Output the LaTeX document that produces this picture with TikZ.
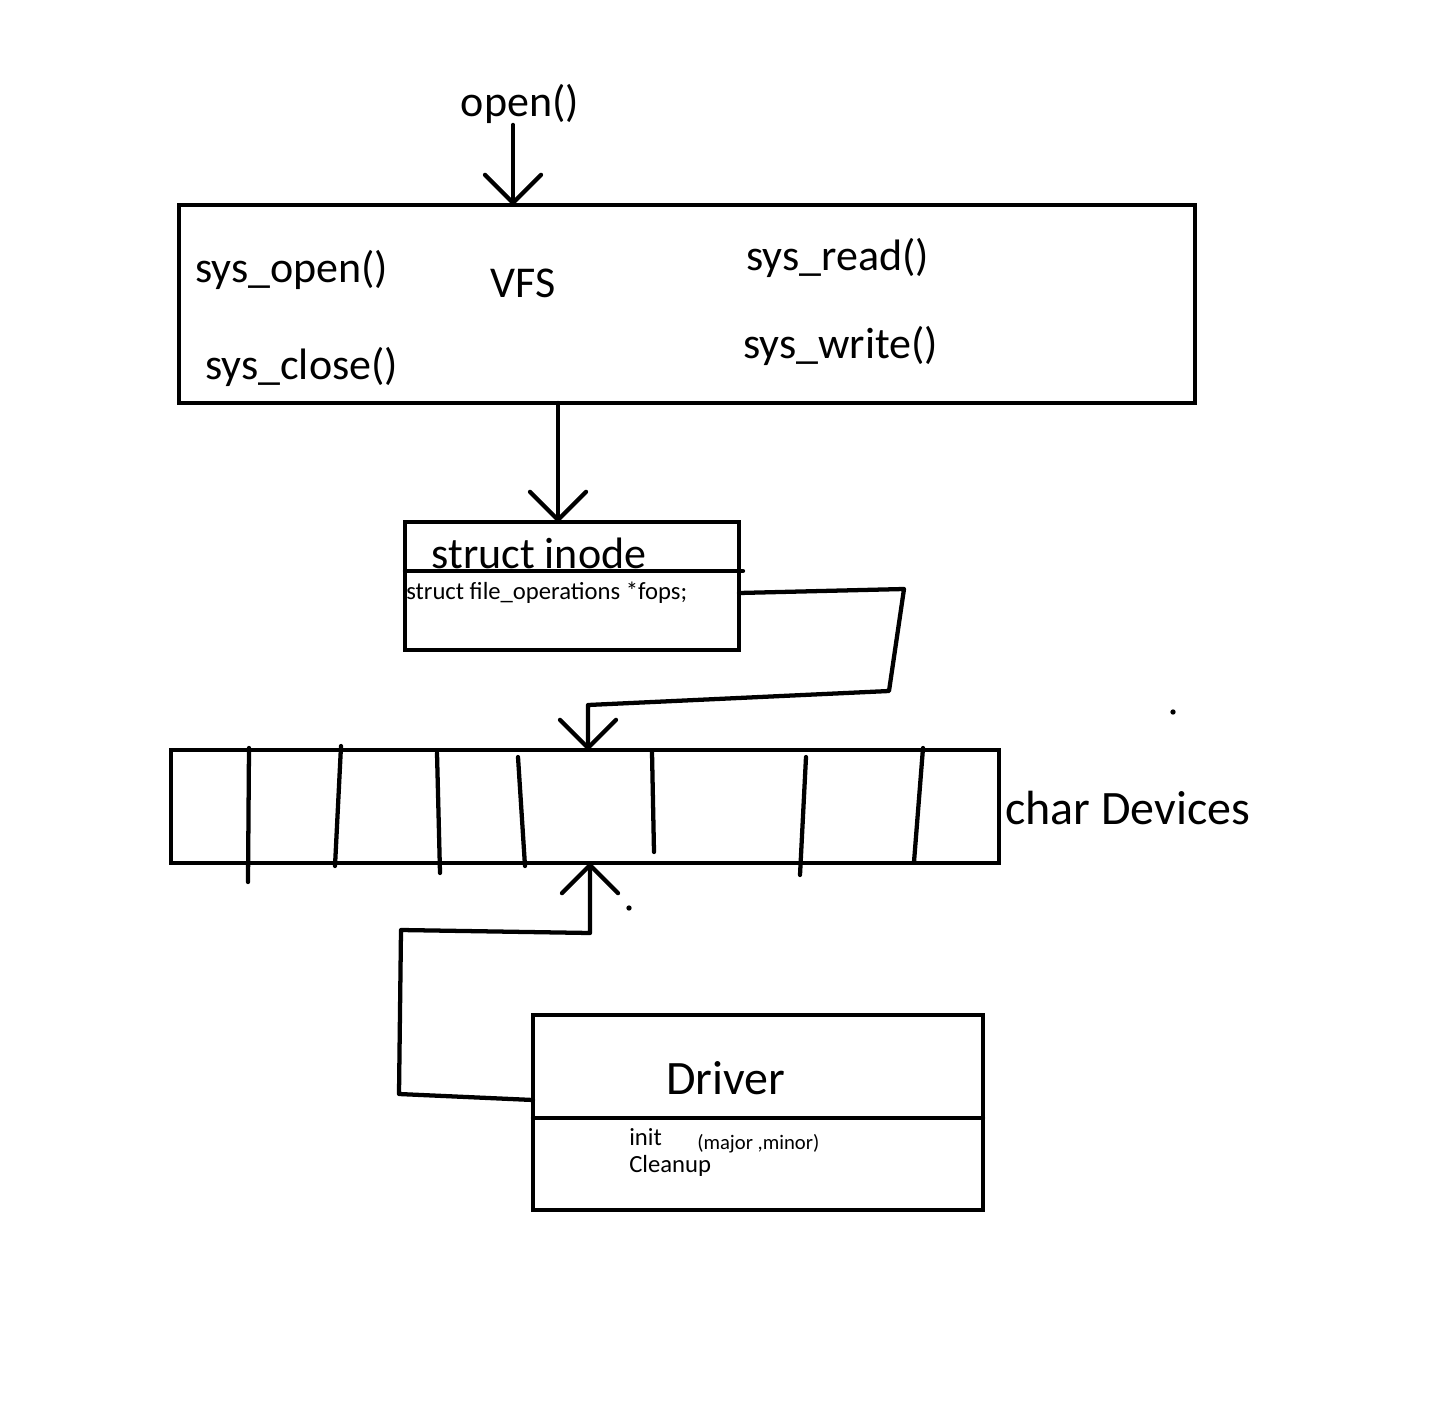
\documentclass[tikz,border=0pt]{standalone}
\usepackage{fontspec}
\setmainfont{Carlito}
\usetikzlibrary{arrows.meta,positioning}

\tikzset{
  box/.style={draw, rectangle, line width=3.4pt, anchor=north west, inner sep=0pt, outer sep=0pt},
  wire/.style={line width=3.2pt, line cap=round, line join=round},
  arr/.style={wire, -{Straight Barb[length=21pt,width=42pt,round]}},
  big/.style={font=\fontsize{33}{39}\selectfont, inner sep=0.75pt},
  huge/.style={font=\fontsize{36}{42}\selectfont, inner sep=0.75pt},
  small/.style={font=\fontsize{18.5}{22}\selectfont, inner sep=0.75pt},
  tiny/.style={font=\fontsize{15.5}{18}\selectfont, inner sep=0.75pt}
}

\begin{document}
\begin{tikzpicture}[x=0.75pt,y=0.75pt,yscale=-1,xscale=1]
\useasboundingbox (0,0) rectangle (1438,1426);

%Shape: Rectangle [id:vfs]
\node[box, minimum width=762pt, minimum height=148.5pt] (vfs) at (179,205) {};
%Shape: Rectangle [id:inode]
\node[box, minimum width=250.5pt, minimum height=96pt] (inode) at (405,522) {};
\draw[wire] (inode.west |- 0,571) -- (743,571);
%Shape: Rectangle [id:chardev]
\node[box, minimum width=621pt, minimum height=84.75pt] (chardev) at (171,750) {};
%Shape: Rectangle [id:driver]
\node[box, minimum width=337.5pt, minimum height=146.25pt] (driver) at (533,1015) {};
\draw[wire] (driver.west |- 0,1118) -- (driver.east |- 0,1118);

% Slots of the char device table
\draw[wire] (249,748) -- (248,882);
\draw[wire] (341,746) -- (335,866);
\draw[wire] (437,753) -- (440,873);
\draw[wire] (518,757) -- (525,866);
\draw[wire] (652,752) -- (654,852);
\draw[wire] (806,757) -- (800,875);
\draw[wire] (923,748) -- (914,862);

% Text Node
\node[big] (open) at (520,104) {open()};
% Text Node
\node[big, anchor=west] (sysopen) at (194,270) {sys\_open()};
% Text Node
\node[big, anchor=west] (sysclose) at (204,367) {sys\_close()};
% Text Node
\node[big] (vfsname) at (523,283) {VFS};
% Text Node
\node[big, anchor=west] (sysread) at (745,258) {sys\_read()};
% Text Node
\node[big, anchor=west] (syswrite) at (742,346) {sys\_write()};
% Text Node
\node[big] (inodename) at (539,553) {struct inode};
% Text Node
\node[small, anchor=west] (fops) at (405,593) {struct file\_operations *fops;};
% Text Node
\node[huge, anchor=west] (chardevname) at (1004,808) {char Devices};
% Text Node
\node[huge] (drivername) at (726,1078) {Driver};
% Text Node
\node[small, anchor=west] (init) at (628,1137) {init};
% Text Node
\node[small, anchor=west] (cleanup) at (628,1166) {Cleanup};
% Text Node
\node[tiny, anchor=west] (majmin) at (696,1144) {(major ,minor)};

% Connectors
\coordinate (vfsin) at (513,205);
\coordinate (vfsout) at (558,403);
\draw[arr] (open.south -| vfsin) -- (vfsin);
\draw[arr] (vfsout) -- (vfsout |- inode.north);
\draw[arr] (inode.east |- fops) -- (904,589) -- (889,691) -- (588,705) -- (588,705 |- chardev.north);
\draw[arr] (driver.west |- 0,1100) -- (399,1094) -- (401,930) -- (590,933) -- (590,933 |- chardev.south);

% stray dots
\fill (1173,712) circle (2pt);
\fill (629,908) circle (2pt);

\end{tikzpicture}
\end{document}
